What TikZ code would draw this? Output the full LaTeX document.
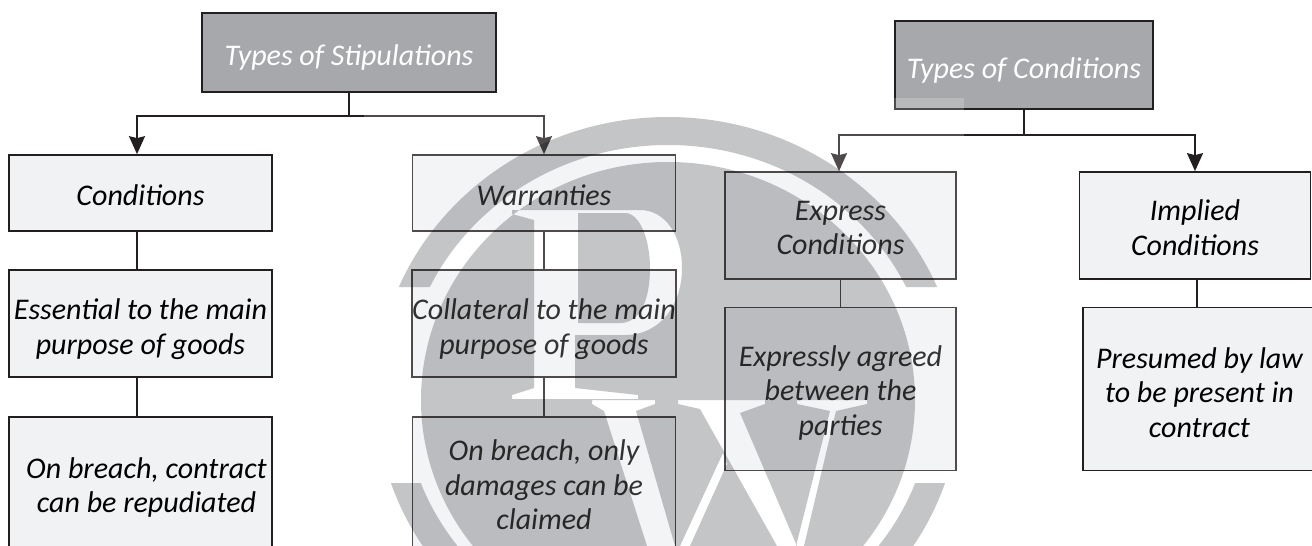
\documentclass[tikz,border=0pt]{standalone}
\usepackage{fontspec}
\setmainfont{Carlito}
\usetikzlibrary{arrows.meta}
\definecolor{headfill}{HTML}{A7A8AB}
\definecolor{itemfill}{HTML}{F1F2F4}
\definecolor{inkline}{HTML}{231F20}
\definecolor{markgray}{HTML}{C4C5C6}
\newcommand{\topgap}[1]{\rule{0pt}{#1}}

\begin{document}
\begin{tikzpicture}[x=1pt,y=-1pt,>={Stealth[length=18pt,width=16pt,inset=2pt]},
                    line width=1.7pt,draw=inkline,
                    box/.style={draw=inkline,align=center,inner sep=0pt,
                                font=\fontsize{30}{34.5}\selectfont\itshape,text=black},
                    head/.style={box,fill=headfill,text=white},
                    item/.style={box,fill=itemfill,minimum width=263pt},
                    itemb/.style={box,fill=itemfill,minimum width=231pt}]

  \useasboundingbox (0,0) rectangle (1312,546);
  \clip (0,0) rectangle (1312,546);

  \node[head,minimum width=294pt,minimum height=79pt]   (stip) at (349,52.5) {\topgap{31pt}Types of Stipulations};
  \node[head,minimum width=258pt,minimum height=88pt]   (cnd)  at (1024,65)  {\topgap{31pt}Types of Conditions};

  \node[item,minimum height=76pt]   (cond) at (140.5,193)                     {\topgap{26pt}Conditions};
  \node[item,minimum height=76pt]   (warr) [right of=cond,node distance=403.5pt] {\topgap{26pt}Warranties};
  \node[item,minimum height=107pt]  (ess)  [below of=cond,node distance=130.5pt] {\topgap{32pt}Essential to the main\\purpose of goods};
  \node[item,minimum height=107pt]  (coll) [below of=warr,node distance=130.5pt] {\topgap{32pt}Collateral to the main\\purpose of goods};
  \node[item,minimum height=136pt]  (repu) [below of=ess,node distance=161.5pt]  {\hspace*{12pt}\topgap{26pt}On breach, contract\\\hspace*{12pt}can be repudiated};
  \node[item,minimum height=136pt]  (dama) [below of=coll,node distance=161.5pt] {On breach, only\\damages can be\\claimed};

  \node[itemb,minimum height=107pt] (expr) at (840.5,225.5)                   {\topgap{24pt}Express\\Conditions};
  \node[itemb,minimum height=107pt] (impl) [right of=expr,node distance=354.5pt] {\topgap{25pt}Implied\\Conditions};
  \node[itemb,minimum height=163pt] (agre) [below of=expr,node distance=163.5pt] {\topgap{28pt}Expressly agreed\\between the\\parties};
  \node[itemb,minimum width=233pt,minimum height=163pt] (pres) at (1199.5,389) {\topgap{28pt}Presumed by law\\to be present in\\contract};

  \coordinate (forkS) at (349,116);
  \coordinate (forkC) at (1024,135);

  \draw (stip.south) -- (forkS);
  \draw[->] (forkS) -| ([xshift=-3.5pt]cond.north);
  \draw[->] (forkS) -| (warr.north);
  \draw (cnd.south) -- (forkC);
  \draw[->] (forkC) -| ([xshift=-1.5pt]expr.north);
  \draw[->] (forkC) -| (impl.north);

  \path[draw=inkline]
        ([xshift=-3.5pt]cond.south) edge ([xshift=-3.5pt]ess.north)
        ([xshift=-3.5pt]ess.south)  edge ([xshift=-3.5pt]repu.north)
        (warr.south) edge (coll.north)
        (coll.south) edge (dama.north)
        (expr.south) edge (agre.north)
        ([xshift=2pt]impl.south) edge ([xshift=-2.5pt]pres.north);

  \fill[white,opacity=.2] (364,98) rectangle (964,546);

  \begin{scope}[blend mode=multiply]
    \begin{scope}
      \clip (300,0) rectangle (1000,287) (300,483) rectangle (1000,546);
      \fill[markgray,even odd rule] (668,395) ellipse [x radius=292,y radius=278]
                                    (668,395) ellipse [x radius=264,y radius=250];
    \end{scope}
    \fill[markgray,even odd rule]
         (668,400) ellipse [x radius=247,y radius=238]
         (512,210) -- (640,210) .. controls (665,210) and (682,235) .. (682,268)
         .. controls (682,305) and (660,335) .. (625,335) -- (575,335) -- (575,388)
         -- (638,395) -- (638,399) -- (512,399) -- (512,395) -- (534,388) -- (534,220)
         -- (512,214) -- cycle
         (578,213) -- (625,213) .. controls (640,213) and (650,240) .. (650,268)
         .. controls (650,300) and (640,323) .. (620,323) -- (578,323) -- cycle
         (592,400) -- (655,400) -- (655,404) -- (636,411) -- (675,546)
         -- (647,546) -- (604,411) -- (592,404) -- cycle
         (678,400) -- (765,400) -- (765,404) -- (740,413) -- (797,546)
         -- (777,546) -- (700,409) -- (678,404) -- cycle
         (723,453) -- (727,464) -- (690,546) -- (680,546) -- cycle
         (797,400) -- (867,400) -- (867,404) -- (836,411) -- (804,546)
         -- (796,546) -- (830,411) -- (797,404) -- cycle;
  \end{scope}
\end{tikzpicture}
\end{document}
